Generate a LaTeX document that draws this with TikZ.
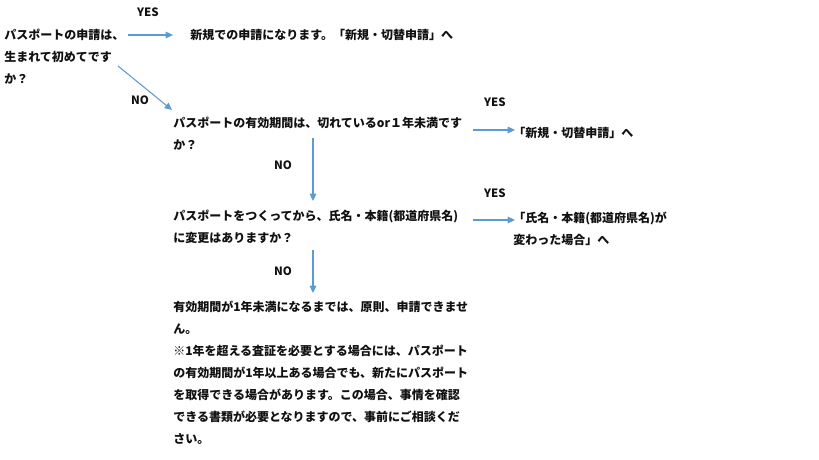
\documentclass[tikz,border=0pt]{standalone}
\usepackage{fontspec}
\usepackage{xcolor}
\usepackage{tikz}
\usetikzlibrary{arrows.meta}
\newfontfamily\jpfont{Noto Sans CJK JP}
\definecolor{Ink}{HTML}{111111}
\definecolor{FlowBlue}{HTML}{5B9BD5}

\begin{document}
\begin{tikzpicture}[x=0.75pt,y=0.75pt]
  \path[use as bounding box] (0,0) rectangle (819,460);

  \tikzset{
    ppText/.style={
      anchor=north west,
      inner sep=0pt,
      align=left,
      font=\jpfont\bfseries\fontsize{9pt}{16.5pt}\selectfont,
      text=Ink
    },
    ppAnswer/.style={
      font=\jpfont\bfseries\fontsize{8.6pt}{10pt}\selectfont,
      text=Ink,
      inner sep=0pt
    },
    ppFlow/.style={
      -{Triangle[length=5.5pt,width=5pt]},
      draw=FlowBlue,
      line width=.8pt
    }
  }

  % 質問の列（左）と行き先（右）
  \node[ppText] (first) at (4,431)
    {パスポートの申請は、\\生まれて初めてです\\か？};
  \node[ppText] (newApp) at (190,431)
    {新規での申請になります。「新規・切替申請」へ};
  \node[ppText] (expiry) at (173,343)
    {パスポートの有効期間は、切れているor１年未満です\\か？};
  \node[ppText] (renew) at (513,333)
    {「新規・切替申請」へ};
  \node[ppText] (change) at (173,250)
    {パスポートをつくってから、氏名・本籍(都道府県名)\\に変更はありますか？};
  \node[ppText] (changed) at (513,248)
    {「氏名・本籍(都道府県名)が\\変わった場合」へ};
  \node[ppText] (notyet) at (173,159)
    {有効期間が1年未満になるまでは、原則、申請できませ\\ん。\\
     ※1年を超える査証を必要とする場合には、パスポート\\
     の有効期間が1年以上ある場合でも、新たにパスポート\\
     を取得できる場合があります。この場合、事情を確認\\
     できる書類が必要となりますので、事前にご相談くだ\\さい。};

  % 矢印
  \draw[ppFlow] ([shift={(124,-6)}]first.north west)  -- ([shift={(-17,-6)}]newApp.north west);
  \draw[ppFlow] ([shift={(114,-37)}]first.north west) -- ([shift={(-1,7)}]expiry.north west);
  \draw[ppFlow] ([shift={(300,-13)}]expiry.north west) -- ([shift={(2,-3)}]renew.north west);
  \draw[ppFlow] ([shift={(140,-21)}]expiry.north west) -- ([shift={(140,9)}]change.north west);
  \draw[ppFlow] ([shift={(300,-10)}]change.north west) -- ([shift={(2,-8)}]changed.north west);
  \draw[ppFlow] ([shift={(140,-40)}]change.north west) -- ([shift={(140,8)}]notyet.north west);

  % YES / NO
  \node[ppAnswer] (yesA) at (148,448) {YES};
  \node[ppAnswer] (noA)  at (140,360) {NO};
  \node[ppAnswer] (yesB) at (495,358) {YES};
  \node[ppAnswer] (noB)  at (283,295) {NO};
  \node[ppAnswer] (yesC) at (495,267) {YES};
  \node[ppAnswer] (noC)  at (283,189) {NO};
\end{tikzpicture}
\end{document}
